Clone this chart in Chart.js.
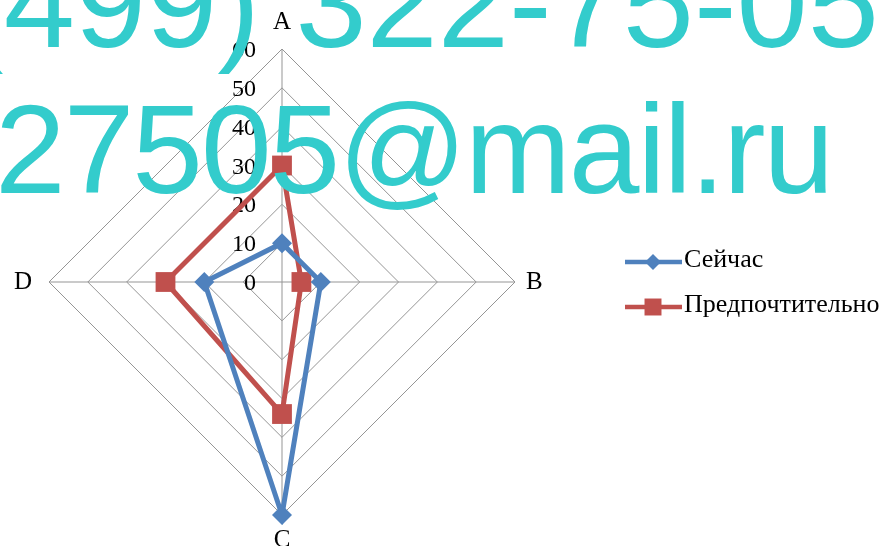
<!DOCTYPE html>
<html>
<head>
<meta charset="utf-8">
<script src="https://cdn.jsdelivr.net/npm/chart.js@4/dist/chart.umd.min.js"></script>
<style>
  html, body { margin: 0; padding: 0; background: #fff; overflow: hidden; }
  #wrap { position: relative; width: 883px; height: 546px; overflow: hidden; }
  #radar { display: block; }
  .wm { position: absolute; white-space: nowrap; font-family: "Liberation Sans", Arial, sans-serif;
        color: #33cccc; pointer-events: none; }
  #wm1 { left: -39px; top: -61px; font-size: 128px; line-height: 128px; }
  #wm2 { left: -5px; top: 86px; font-size: 127px; line-height: 127px; letter-spacing: -2px; }
</style>
</head>
<body>
<div id="wrap">
  <canvas id="radar" width="883" height="551"></canvas>
  <div class="wm" id="wm1"></div>
  <div class="wm" id="wm2"></div>
</div>
<script>
'use strict';
// Data
var axisLabels = ['A', 'B', 'C', 'D'];
var seriesNames = ['Сейчас', 'Предпочтительно'];
var nowValues = [10, 10, 60, 20];
var preferredValues = [30, 5, 34, 30];
var scaleMin = 0;
var scaleMax = 60;
var scaleStep = 10;
var watermarkLines = ['(499) 322-75-05', '27505@mail.ru'];

var serif = '"Liberation Serif", "Times New Roman", serif';

document.getElementById('wm1').textContent = watermarkLines[0];
document.getElementById('wm2').textContent = watermarkLines[1];

// Tick labels sit left of the vertical axis, like Excel does it
var tickLabelPlugin = {
  id: 'tickLabels',
  beforeDatasetsDraw: function(chart) {
    var scale = chart.scales.r;
    var ctx = chart.ctx;
    ctx.save();
    ctx.font = '24px ' + serif;
    ctx.fillStyle = '#000';
    ctx.textAlign = 'right';
    ctx.textBaseline = 'alphabetic';
    scale.ticks.forEach(function(t) {
      var y = scale.yCenter - scale.getDistanceFromCenterForValue(t.value);
      ctx.fillText(String(t.value), scale.xCenter - 26, y + 8);
    });
    ctx.restore();
  }
};

// Legend on the right: line with marker in the middle
var sideLegendPlugin = {
  id: 'sideLegend',
  afterDraw: function(chart) {
    var ctx = chart.ctx;
    chart.data.datasets.forEach(function(ds, i) {
      var y = 262 + i * 45;
      ctx.save();
      ctx.strokeStyle = ds.borderColor;
      ctx.lineWidth = 4.5;
      ctx.beginPath();
      ctx.moveTo(625, y);
      ctx.lineTo(682, y);
      ctx.stroke();
      ctx.fillStyle = ds.pointBackgroundColor;
      Chart.helpers.drawPoint(ctx, {
        pointStyle: ds.pointStyle,
        radius: ds.legendRadius,
        borderWidth: 0,
        rotation: 0
      }, 653, y);
      ctx.fillStyle = '#000';
      ctx.font = '26px ' + serif;
      ctx.textAlign = 'left';
      ctx.textBaseline = 'alphabetic';
      ctx.fillText(ds.label, 684, y + 5);
      ctx.restore();
    });
  }
};

// label gap per axis (A, B, C, D)
var labelPadding = [17, 11, 15, 17];

var ctx = document.getElementById('radar');
var radarChart = new Chart(ctx, {
  type: 'radar',
  data: {
    labels: axisLabels,
    datasets: [
      {
        label: seriesNames[0],
        data: nowValues,
        borderColor: '#4f81bd',
        backgroundColor: '#4f81bd',
        pointBackgroundColor: '#4f81bd',
        pointBorderWidth: 0,
        borderWidth: 5,
        fill: false,
        tension: 0,
        pointStyle: 'rectRot',
        pointRadius: 10,
        legendRadius: 8
      },
      {
        label: seriesNames[1],
        data: preferredValues,
        borderColor: '#c0504d',
        backgroundColor: '#c0504d',
        pointBackgroundColor: '#c0504d',
        pointBorderWidth: 0,
        borderWidth: 5,
        fill: false,
        tension: 0,
        pointStyle: 'rect',
        pointRadius: 14,
        legendRadius: 12
      }
    ]
  },
  options: {
    responsive: false,
    animation: false,
    layout: {
      padding: { top: 11, bottom: 0, left: 0, right: 326 }
    },
    plugins: {
      legend: { display: false },
      tooltip: { enabled: false }
    },
    scales: {
      r: {
        min: scaleMin,
        max: scaleMax,
        ticks: { stepSize: scaleStep, display: false },
        grid: { color: '#959595', lineWidth: 1 },
        angleLines: { color: '#959595', lineWidth: 1 },
        pointLabels: {
          color: '#000',
          padding: function(c) { return labelPadding[c.index]; },
          font: { family: serif, size: 25, lineHeight: 0.8 }
        }
      }
    }
  },
  plugins: [tickLabelPlugin, sideLegendPlugin]
});
</script>
</body>
</html>
